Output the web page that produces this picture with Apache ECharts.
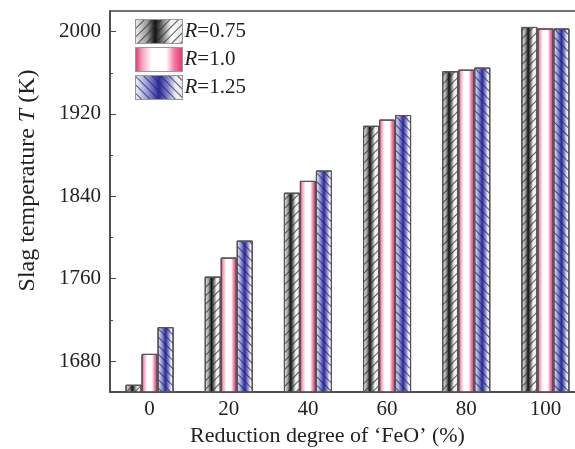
<!DOCTYPE html>
<html>
<head>
<meta charset="utf-8">
<script src="https://cdn.jsdelivr.net/npm/echarts@6/dist/echarts.min.js"></script>
<style>
  html, body { margin: 0; padding: 0; background: #fff; }
  #chart { width: 575px; height: 449px; }
</style>
</head>
<body>
<div id="chart"></div>
<script>
// reduction degree of FeO (%)
const categories = ['0', '20', '40', '60', '80', '100']
const seriesNames = ['R=0.75', 'R=1.0', 'R=1.25']
// slag temperature (K)
const tempR075 = [1657, 1762, 1843.5, 1908.5, 1961.5, 2004.5]
const tempR100 = [1687, 1780.5, 1855, 1914.5, 1963, 2003]
const tempR125 = [1713, 1797, 1865, 1919, 1965, 2003]
const majorTicks = [1680, 1760, 1840, 1920, 2000]
const minorTicks = [1720, 1800, 1880, 1960]

const font = 'Liberation Serif'

const grad = (stops) => new echarts.graphic.LinearGradient(0, 0, 1, 0,
  stops.map(([offset, color]) => ({ offset, color })))

const hatch = (rot) => ({
  symbol: 'rect',
  symbolSize: 1,
  dashArrayX: [[1, 0]],
  dashArrayY: [1, 5],
  rotation: rot,
  color: 'rgba(40,40,40,0.75)'
})

const styles = [
  {
    color: grad([[0, '#f2f2f2'], [0.25, '#9a9a9a'], [0.42, '#111'], [0.55, '#666'], [0.75, '#fafafa'], [1, '#e6e6e6']]),
    decal: hatch(-Math.PI / 4)
  },
  {
    color: grad([[0, '#e2306c'], [0.15, '#f5a3bf'], [0.35, '#fff'], [0.65, '#fff'], [0.82, '#f27aa2'], [1, '#e2306c']]),
    decal: { symbol: 'none' }
  },
  {
    color: grad([[0, '#f4f4fb'], [0.25, '#9a9ae0'], [0.5, '#2a2aa6'], [0.7, '#8a8ad6'], [0.85, '#f0f0fa'], [1, '#e8e8f0']]),
    decal: hatch(Math.PI / 4)
  }
]

const values = [tempR075, tempR100, tempR125]

const chart = echarts.init(document.getElementById('chart'))

const option = {
  backgroundColor: '#fff',
  aria: { enabled: true, decal: { show: true } },
  textStyle: { fontFamily: font, color: '#222' },
  grid: {
    left: 110, right: -10, top: 11, bottom: 57,
    outerBoundsMode: 'none',
    containLabel: false,
    show: true, borderColor: '#444', borderWidth: 1.5
  },
  legend: {
    orient: 'vertical',
    left: 130, top: 14,
    icon: 'rect',
    itemWidth: 47, itemHeight: 24, itemGap: 3,
    itemStyle: { borderColor: '#999', borderWidth: 1 },
    data: seriesNames,
    formatter: (name) => '{i|R}' + name.slice(1),
    textStyle: {
      fontFamily: font, fontSize: 21, color: '#222', padding: [0, 0, 0, -3],
      rich: { i: { fontFamily: font, fontSize: 21, fontStyle: 'italic', color: '#222' } }
    }
  },
  xAxis: {
    type: 'category',
    data: categories,
    name: 'Reduction degree of \u2018FeO\u2019 (%)',
    nameLocation: 'middle',
    nameGap: 29,
    nameTextStyle: { fontFamily: font, fontSize: 22, color: '#222', padding: [0, 40, 0, 0] },
    axisLine: { lineStyle: { color: '#444', width: 1.5 } },
    axisTick: { inside: true, length: 4, lineStyle: { color: '#444' } },
    axisLabel: { fontFamily: font, fontSize: 21, color: '#222', margin: 7 }
  },
  yAxis: [
    {
      type: 'value',
      min: 1650, max: 2020,
      name: '{n|Slag temperature }{i|T}{n| (K)}',
      nameLocation: 'middle',
      nameGap: 70,
      nameRotate: 90,
      nameTextStyle: {
        fontFamily: font, fontSize: 24, color: '#222', padding: [0, 0, 0, 42],
        rich: {
          n: { fontFamily: font, fontSize: 24, color: '#222' },
          i: { fontFamily: font, fontSize: 24, fontStyle: 'italic', color: '#222' }
        }
      },
      splitLine: { show: false },
      axisLine: { show: true, lineStyle: { color: '#444', width: 1.5 } },
      axisTick: { show: true, inside: true, length: 6, customValues: majorTicks, lineStyle: { color: '#444' } },
      axisLabel: {
        fontFamily: font, fontSize: 21, color: '#222', margin: 9,
        customValues: majorTicks, formatter: (v) => String(v)
      }
    },
    {
      type: 'value',
      min: 1650, max: 2020,
      position: 'left',
      splitLine: { show: false },
      axisLine: { show: false },
      axisTick: { show: true, inside: true, length: 3, customValues: minorTicks, lineStyle: { color: '#444' } },
      axisLabel: { show: false, customValues: minorTicks }
    }
  ],
  series: seriesNames.map((name, i) => ({
    name,
    type: 'bar',
    data: values[i],
    barWidth: 16,
    barGap: '0%',
    itemStyle: {
      color: styles[i].color,
      borderColor: '#555',
      borderWidth: 1,
      decal: styles[i].decal
    },
    emphasis: { disabled: true }
  }))
}

chart.setOption(option)
</script>
</body>
</html>
